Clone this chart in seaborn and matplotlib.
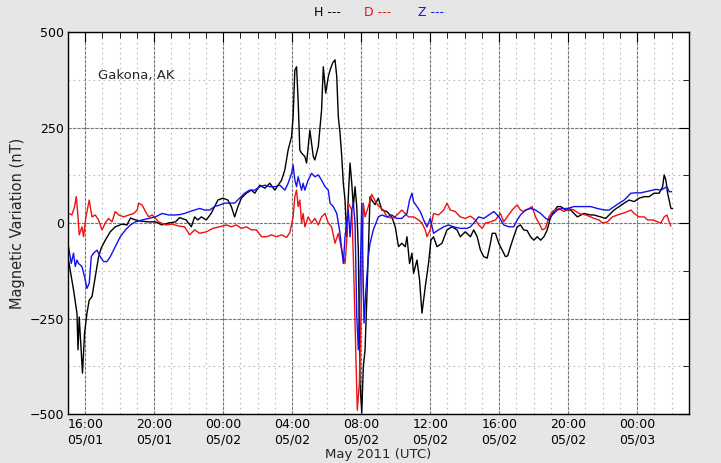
import numpy as np
import pandas as pd
import seaborn as sns
import matplotlib
matplotlib.use("Agg")
import matplotlib.pyplot as plt
import matplotlib.dates as mdates
from matplotlib.ticker import MultipleLocator

# hours since 2011-05-01 00:00 UTC, and magnetic variation in nT
h_hours = [15.03, 15.32, 15.52, 15.58, 15.65, 15.75, 15.84, 15.96, 16.10, 16.23, 16.39, 16.58, 16.77, 16.93,
           17.16, 17.45, 17.74, 18.13, 18.42, 18.62, 18.91, 19.20, 19.66, 20.06, 20.45, 20.83, 21.23, 21.47,
           21.85, 22.15, 22.34, 22.53, 22.73, 23.02, 23.31, 23.50, 23.69, 23.98, 24.27, 24.47, 24.66, 24.85,
           25.05, 25.34, 25.63, 25.83, 26.12, 26.41, 26.70, 26.99, 27.18, 27.38, 27.57, 27.76, 27.96, 28.05,
           28.15, 28.25, 28.34, 28.44, 28.54, 28.73, 28.83, 29.02, 29.22, 29.31, 29.51, 29.70, 29.80, 29.94,
           30.09, 30.19, 30.34, 30.48, 30.58, 30.67, 30.77, 30.87, 30.96, 31.06, 31.16, 31.25, 31.35, 31.45,
           31.54, 31.64, 31.74, 31.83, 31.93, 32.03, 32.12, 32.22, 32.32, 32.41, 32.51, 32.61, 32.80, 32.99,
           33.19, 33.48, 33.77, 33.97, 34.16, 34.35, 34.55, 34.65, 34.80, 34.94, 35.03, 35.23, 35.38, 35.52,
           35.71, 35.90, 36.04, 36.19, 36.39, 36.68, 36.97, 37.26, 37.55, 37.74, 38.03, 38.33, 38.52, 38.72,
           38.91, 39.10, 39.30, 39.49, 39.59, 39.78, 39.97, 40.17, 40.36, 40.49, 40.65, 40.84, 41.04, 41.23,
           41.42, 41.62, 41.81, 42.01, 42.20, 42.40, 42.59, 42.78, 42.98, 43.17, 43.37, 43.56, 43.85, 44.14,
           44.53, 44.91, 45.30, 45.49, 45.88, 46.17, 46.37, 46.66, 46.95, 47.24, 47.53, 47.82, 48.11, 48.40,
           48.69, 48.98, 49.27, 49.47, 49.56, 49.66, 49.76, 49.85, 49.95, 50.05]
h_values = [-97, -175, -236, -332, -246, -325, -393, -288, -236, -202, -193, -141, -89, -65,
            -45, -23, -10, -3, -5, 13, 8, 5, 3, 3, -5, 0, 3, 14,
            8, -10, 16, 8, 16, 8, 26, 43, 60, 65, 60, 43, 16, 43,
            65, 78, 86, 78, 99, 91, 104, 86, 99, 112, 139, 191, 226, 278,
            400, 409, 322, 191, 183, 174, 157, 243, 174, 165, 200, 296, 409, 340,
            383, 400, 419, 427, 383, 278, 235, 174, 104, 60, -36, 69, 157, 104,
            43, 95, 43, -71, -419, -497, -376, -332, -202, -71, 69, 60, 48, 65,
            34, 30, 16, -10, -62, -53, -62, -36, -106, -79, -132, -97, -149, -236,
            -167, -106, -45, -36, -62, -53, -18, -10, -18, -36, -23, -36, -18, -36,
            -71, -88, -92, -53, -27, -27, -53, -71, -88, -86, -62, -36, -10, -5,
            -18, -20, -36, -45, -36, -45, -36, -18, 16, 30, 43, 43, 34, 34,
            16, 25, 21, 21, 16, 12, 21, 34, 43, 52, 60, 56, 65, 69,
            69, 78, 78, 95, 126, 112, 78, 60, 38, 38]

d_hours = [15.03, 15.23, 15.38, 15.48, 15.58, 15.65, 15.81, 15.90, 16.04, 16.23, 16.39, 16.58, 16.77, 16.97,
           17.16, 17.35, 17.55, 17.74, 17.94, 18.23, 18.52, 18.81, 19.01, 19.10, 19.30, 19.49, 19.68, 19.88,
           20.26, 20.65, 21.04, 21.42, 21.76, 22.05, 22.34, 22.63, 23.02, 23.40, 23.79, 24.18, 24.47, 24.76,
           25.05, 25.34, 25.63, 25.92, 26.22, 26.51, 26.80, 27.09, 27.38, 27.67, 27.86, 28.05, 28.15, 28.25,
           28.34, 28.44, 28.54, 28.63, 28.73, 28.92, 29.12, 29.31, 29.51, 29.70, 29.90, 30.09, 30.28, 30.48,
           30.67, 30.87, 31.06, 31.16, 31.25, 31.45, 31.54, 31.70, 31.77, 31.89, 32.03, 32.12, 32.22, 32.41,
           32.61, 32.80, 32.99, 33.28, 33.48, 33.87, 34.16, 34.35, 34.55, 34.74, 35.03, 35.32, 35.52, 35.71,
           35.81, 36.00, 36.19, 36.48, 36.78, 36.97, 37.16, 37.45, 37.74, 38.03, 38.33, 38.62, 38.81, 39.01,
           39.20, 39.49, 39.78, 40.07, 40.26, 40.46, 40.75, 40.94, 41.04, 41.23, 41.42, 41.72, 41.91, 42.10,
           42.30, 42.49, 42.68, 42.88, 43.07, 43.27, 43.46, 43.75, 44.04, 44.33, 44.62, 45.01, 45.30, 45.49,
           45.78, 45.98, 46.27, 46.56, 46.85, 47.14, 47.44, 47.63, 47.82, 48.11, 48.40, 48.60, 48.89, 49.18,
           49.37, 49.56, 49.72, 49.85, 49.95]
d_values = [25, 21, 43, 69, 16, -31, -10, -36, 16, 60, 16, 21, 8, -18,
            0, 12, 3, 30, 21, 16, 21, 25, 34, 52, 47, 30, 16, 21,
            3, -5, -3, -8, -10, -31, -18, -27, -23, -14, -10, -5, -10, -5,
            -14, -10, -18, -18, -36, -36, -31, -36, -31, -38, -25, 16, 69, 86,
            43, 60, 0, 25, -10, 16, 0, 12, -5, 16, 25, 0, -10, -53,
            -27, -71, -106, -45, 52, 34, -88, -367, -490, -420, -157, 52, 16, 43,
            75, 58, 45, 34, 16, 12, 25, 34, 25, 16, 16, 8, 0, -18,
            -36, -18, 25, 21, 34, 52, 34, 30, 16, 12, 18, 8, -5, -14,
            0, 3, 8, 25, 3, 16, 34, 43, 47, 34, 30, 38, 43, 16,
            0, -18, -14, 16, 30, 34, 38, 30, 38, 34, 25, 21, 16, 12,
            8, 0, 3, 16, 21, 25, 30, 34, 25, 16, 16, 8, 8, 3,
            0, 16, 21, 3, -8]

z_hours = [14.97, 15.03, 15.19, 15.32, 15.42, 15.52, 15.61, 15.81, 15.96, 16.10, 16.23, 16.35, 16.48, 16.68,
           16.87, 17.06, 17.26, 17.45, 17.74, 18.03, 18.33, 18.62, 18.91, 19.30, 19.68, 20.07, 20.46, 20.84,
           21.23, 21.47, 21.76, 22.05, 22.34, 22.63, 22.92, 23.21, 23.50, 23.79, 24.08, 24.37, 24.66, 24.95,
           25.24, 25.53, 25.82, 26.12, 26.41, 26.70, 26.99, 27.28, 27.57, 27.76, 27.96, 28.05, 28.15, 28.25,
           28.34, 28.44, 28.54, 28.63, 28.73, 28.92, 29.12, 29.31, 29.51, 29.70, 29.90, 30.09, 30.19, 30.38,
           30.58, 30.77, 30.87, 30.96, 31.06, 31.25, 31.35, 31.45, 31.54, 31.64, 31.74, 31.83, 31.93, 32.03,
           32.08, 32.16, 32.27, 32.41, 32.51, 32.70, 32.99, 33.19, 33.48, 33.77, 34.06, 34.35, 34.65, 34.80,
           34.94, 35.03, 35.23, 35.42, 35.62, 35.81, 36.00, 36.19, 36.48, 36.78, 37.06, 37.35, 37.74, 38.13,
           38.33, 38.52, 38.81, 39.10, 39.40, 39.69, 39.98, 40.26, 40.55, 40.84, 41.04, 41.23, 41.52, 41.81,
           42.10, 42.40, 42.69, 42.88, 43.07, 43.37, 43.66, 43.95, 44.33, 44.72, 45.11, 45.30, 45.69, 46.08,
           46.37, 46.66, 46.95, 47.24, 47.44, 47.63, 47.92, 48.21, 48.51, 48.80, 49.09, 49.37, 49.56, 49.72,
           49.85, 49.99]
z_values = [-53, -62, -106, -79, -114, -97, -106, -114, -141, -171, -158, -88, -79, -71,
            -88, -101, -101, -88, -62, -36, -18, -5, 3, 8, 12, 16, 25, 21,
            21, 22, 25, 30, 34, 38, 34, 34, 43, 47, 52, 52, 52, 65,
            78, 86, 86, 95, 99, 95, 95, 99, 86, 104, 130, 152, 112, 95,
            121, 104, 86, 104, 86, 112, 130, 121, 126, 112, 95, 86, 52, 43,
            25, -27, -71, -106, -36, 34, -36, 34, 52, 0, -245, -332, -158, 52,
            -71, -262, -175, -88, -53, -18, 16, 21, 16, 21, 12, 12, 25, 60,
            78, 56, 43, 30, 8, -10, 12, -27, -18, -10, -5, -10, -14, -14,
            -10, 0, 16, 12, 21, 30, 16, -5, -10, -10, 8, 21, 34, 38,
            34, 25, 12, 8, 21, 34, 38, 38, 43, 43, 43, 43, 38, 34,
            34, 43, 52, 60, 69, 78, 79, 79, 82, 85, 88, 86, 91, 95,
            82, 82]

components = ["H", "D", "Z"]
colors = ["black", "#ee1111", "#1111ee"]

base = pd.Timestamp("2011-05-01 00:00")
frames = []
for name, hrs, vals in zip(components, [h_hours, d_hours, z_hours], [h_values, d_values, z_values]):
    frames.append(pd.DataFrame({"time": base + pd.to_timedelta(hrs, unit="h"),
                                "nT": vals, "comp": name}))
df = pd.concat(frames, ignore_index=True)

sns.set_style("white")
plt.rcParams["font.family"] = ["DejaVu Sans"]

fig = plt.figure(figsize=(7.21, 4.63), dpi=100, facecolor="#e6e6e6")
ax = fig.add_axes([68 / 721, 49 / 463, 621 / 721, 382 / 463])

sns.lineplot(data=df, x="time", y="nT", hue="comp", hue_order=components,
             palette=colors, estimator=None, legend=False, linewidth=1.0, ax=ax)

ax.set_xlim(base + pd.Timedelta(hours=15), base + pd.Timedelta(hours=51))
ax.set_ylim(-500, 500)
ax.yaxis.set_major_locator(MultipleLocator(250))
ax.yaxis.set_minor_locator(MultipleLocator(125))
ax.xaxis.set_major_locator(mdates.HourLocator(byhour=[0, 4, 8, 12, 16, 20]))
ax.xaxis.set_minor_locator(mdates.HourLocator())
ax.xaxis.set_major_formatter(mdates.DateFormatter("%H:%M\n%m/%d"))

ax.grid(which="major", color="#777777", linestyle=(0, (3, 1)), linewidth=0.8)
ax.grid(which="minor", color="#bbbbbb", linestyle=(0, (1.5, 3)), linewidth=0.8)
ax.tick_params(which="both", direction="in", top=True, right=True, labelsize=9, colors="black")
ax.tick_params(which="major", length=7, pad=3)
ax.tick_params(which="minor", length=4)
for s in ax.spines.values():
    s.set_visible(True)
    s.set_color("black")
    s.set_linewidth(1.0)

ax.set_xlabel("May 2011 (UTC)", fontsize=9.5, labelpad=1)
ax.set_ylabel("Magnetic Variation (nT)", fontsize=10.5, labelpad=3)
ax.text(0.048, 0.887, "Gakona, AK", transform=ax.transAxes, fontsize=9.5, va="center", ha="left")

for name, c, xpos in zip(components, colors, [327 / 721, 378 / 721, 431 / 721]):
    fig.text(xpos, 1 - 13 / 463, name + " ---", color=c, fontsize=9, ha="center", va="center")

fig.savefig("out.png", dpi=100, facecolor=fig.get_facecolor())
